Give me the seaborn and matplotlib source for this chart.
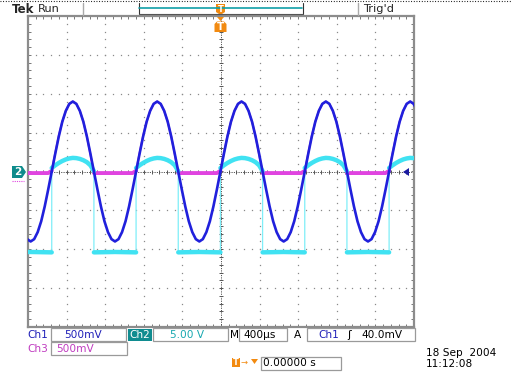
import numpy as np
import pandas as pd
import matplotlib
matplotlib.use("Agg")
import matplotlib.pyplot as plt
import seaborn as sns
from matplotlib.patches import Rectangle, Polygon
from matplotlib.lines import Line2D

# ---------------- data ----------------
# scope settings
ch1_v_per_div = 0.5      # 500mV
ch2_v_per_div = 5.0      # 5.00 V
ch3_v_per_div = 0.5      # 500mV
time_per_div_us = 400.0  # M 400us
period_us = 874.0        # measured period of the signal
first_rise_us = -6.0     # rising zero crossing closest to trigger

# one measured cycle, starting at Ch1 rising zero crossing, 25 samples (0..1)
cycle_phase = [i / 24 for i in range(25)]
ch1_cycle_v = [0.00, 0.23, 0.45, 0.64, 0.78, 0.87, 0.90, 0.87, 0.78, 0.64, 0.45, 0.23,
               0.00, -0.23, -0.45, -0.64, -0.78, -0.87, -0.90, -0.87, -0.78, -0.64, -0.45, -0.23,
               0.00]
ch3_cycle_v = [0.01, 0.24, 0.46, 0.64, 0.78, 0.87, 0.90, 0.87, 0.78, 0.64, 0.45, 0.22,
               -0.02, -0.02, -0.02, -0.02, -0.02, -0.02, -0.02, -0.02, -0.02, -0.02, -0.02, -0.02,
               0.01]
# Ch2: arc during positive half cycle, flat low level during negative half
ch2_arc_phase = [i / 24 for i in range(13)]
ch2_arc_v = [0.45, 0.80, 1.10, 1.35, 1.55, 1.68, 1.75, 1.72, 1.62, 1.45, 1.20, 0.80, 0.05]
ch2_low_phase = [0.5, 0.75, 1.0]
ch2_low_v = [-10.4, -10.35, -10.4]
cycles = [-3, -2, -1, 0, 1, 2]

# ---------------- build tables ----------------
ch1_rows, ch3_pos, ch3_neg = [], [], []
for k in cycles:
    t0 = first_rise_us + k * period_us
    for i, (p, v1, v3) in enumerate(zip(cycle_phase, ch1_cycle_v, ch3_cycle_v)):
        t = t0 + p * period_us
        ch1_rows.append((k, t, v1 / ch1_v_per_div))
        if i <= 12:
            ch3_pos.append((k, t, v3 / ch3_v_per_div))
        if i >= 12:
            ch3_neg.append((k, t, v3 / ch3_v_per_div))
ch1_df = pd.DataFrame(ch1_rows, columns=["seg", "t", "div"])
ch3_pos_df = pd.DataFrame(ch3_pos, columns=["seg", "t", "div"])
ch3_neg_df = pd.DataFrame(ch3_neg, columns=["seg", "t", "div"])

thick, thin = [], []
seg = 0
for k in cycles:
    t0 = first_rise_us + k * period_us
    for p, v in zip(ch2_arc_phase, ch2_arc_v):
        thick.append((seg, t0 + p * period_us, v / ch2_v_per_div))
        thin.append((t0 + p * period_us, v / ch2_v_per_div))
    seg += 1
    for p, v in zip(ch2_low_phase, ch2_low_v):
        thick.append((seg, t0 + p * period_us, v / ch2_v_per_div))
        thin.append((t0 + p * period_us, v / ch2_v_per_div))
    seg += 1
ch2_thick = pd.DataFrame(thick, columns=["seg", "t", "div"])
ch2_thin = pd.DataFrame(thin, columns=["t", "div"])

# ---------------- figure ----------------
sns.set_style("white")
plt.rcParams["font.family"] = ["DejaVu Sans"]

W, H = 511, 375
fig = plt.figure(figsize=(W / 100, H / 100), dpi=100)
fig.patch.set_facecolor("white")
L, R, T, B = 28, 414, 16, 327
ax = fig.add_axes([L / W, 1 - B / H, (R - L) / W, (B - T) / H])


def fx(x):
    return x / W


def fy(y):
    return 1 - y / H


half_x = 5 * time_per_div_us
ax.set_xlim(-half_x, half_x)
ax.set_ylim(-4, 4)

# graticule dots
gcol = "#8a8a8a"
xs_major = [i * time_per_div_us for i in range(-4, 5) if i != 0]
ys_major = [i for i in range(-3, 4) if i != 0]
yy = np.arange(-4, 4.001, 0.2)
xx = np.arange(-half_x, half_x + 1, time_per_div_us / 5)
for xm in xs_major:
    ax.plot(np.full_like(yy, xm), yy, ls="none", marker="s", ms=0.9, mew=0, color=gcol, zorder=1)
for ym in ys_major:
    ax.plot(xx, np.full_like(xx, ym), ls="none", marker="s", ms=0.9, mew=0, color=gcol, zorder=1)
# center lines with ticks
ax.axhline(0, ls=(0, (1.2, 1.2)), lw=0.7, color="#555555", zorder=1)
ax.axvline(0, ls=(0, (1.2, 1.2)), lw=0.7, color="#555555", zorder=1)
ax.plot(xx, np.zeros_like(xx), ls="none", marker="|", ms=3.5, mew=0.7, color="#555555", zorder=1)
ax.plot(np.zeros_like(yy), yy, ls="none", marker="_", ms=3.5, mew=0.7, color="#555555", zorder=1)

# border ticks
ax.set_xticks(xx)
ax.set_yticks(yy)
ax.tick_params(which="both", direction="in", length=2.5, width=0.7, color="#777777",
               top=True, right=True, bottom=True, left=True,
               labelbottom=False, labelleft=False)
for s in ax.spines.values():
    s.set_color("#8c8c8c")
    s.set_linewidth(1.6)
ax.grid(False)

# traces
pink = "#e044e0"
cyan = "#40e2f2"
blue = "#2020dc"
sns.lineplot(data=ch3_neg_df, x="t", y="div", units="seg", estimator=None,
             sort=False, color=pink, lw=2.8, ax=ax, legend=False, zorder=3)
sns.lineplot(data=ch3_pos_df, x="t", y="div", units="seg", estimator=None,
             sort=False, color=pink, lw=1.4, ax=ax, legend=False, zorder=3)
sns.lineplot(data=ch2_thin, x="t", y="div", estimator=None, sort=False,
             color="#7feef8", lw=0.9, ax=ax, legend=False, zorder=4)
sns.lineplot(data=ch2_thick, x="t", y="div", units="seg", estimator=None, sort=False,
             color=cyan, lw=3.2, ax=ax, legend=False, zorder=4)
sns.lineplot(data=ch1_df, x="t", y="div", units="seg", estimator=None,
             sort=False, color=blue, lw=1.9, ax=ax, legend=False, zorder=5)
ax.set_xlim(-half_x, half_x)
ax.set_ylim(-4, 4)
ax.set_xlabel("")
ax.set_ylabel("")

# ---------------- overlays (screen furniture) ----------------
def line(x0, y0, x1, y1, **kw):
    fig.add_artist(Line2D([fx(x0), fx(x1)], [fy(y0), fy(y1)], transform=fig.transFigure, **kw))


def box(x0, y0, x1, y1, ec="#9a9a9a", fc="none", lw=0.9):
    fig.add_artist(Rectangle((fx(x0), fy(y1)), (x1 - x0) / W, (y1 - y0) / H,
                             transform=fig.transFigure, ec=ec, fc=fc, lw=lw))


def poly(pts, color):
    fig.add_artist(Polygon([(fx(a), fy(b)) for a, b in pts], closed=True,
                           transform=fig.transFigure, fc=color, ec="none"))


fs = 7.6
# top dotted border
line(0, 1, 511, 1, color="black", lw=0.8, ls=(0, (0.8, 1.6)))
fig.text(fx(12), fy(9.5), "Tek", fontsize=8.5, fontweight="bold", va="center", ha="left")
fig.text(fx(38), fy(8.5), "Run", fontsize=8.2, va="center", ha="left")
fig.text(fx(363), fy(8.5), "Trig'd", fontsize=8.2, va="center", ha="left")
line(83, 3, 83, 15, color="#aaaaaa", lw=1.0)
line(358, 3, 358, 15, color="#aaaaaa", lw=1.0)
# record view
line(138.5, 3, 138.5, 14, color="#333333", lw=0.8)
line(302.5, 3, 302.5, 14, color="#333333", lw=0.8)
line(138.5, 13.5, 302.5, 13.5, color="#555555", lw=0.8)
line(139, 8, 302, 8, color="#10a0a8", lw=1.2)
orange = "#f28a10"
poly([(216, 4), (225, 4), (225, 12), (220.5, 15), (216, 12)], orange)
fig.text(fx(220.5), fy(9), "T", fontsize=6, color="white", fontweight="bold", ha="center", va="center")
poly([(217, 17), (224, 17), (220.5, 21)], orange)
poly([(214.5, 24), (217, 21.5), (224, 21.5), (226.5, 24), (226.5, 32), (214.5, 32)], orange)
fig.text(fx(220.5), fy(27), "T", fontsize=7.5, color="white", fontweight="bold", ha="center", va="center")

# ground marker "2"
poly([(12, 166), (22, 166), (26, 172), (22, 178), (12, 178)], "#0e8c8c")
fig.text(fx(17.5), fy(172), "2", fontsize=7.5, color="white", fontweight="bold", ha="center", va="center")
line(12, 180.5, 24, 180.5, color=pink, lw=0.8, ls=(0, (1, 1)))
# trigger level arrow
poly([(403, 172), (409, 168), (409, 176)], "#1a1aa0")

# bottom readouts
tealtxt = "#18a8b0"
ch1c = "#2020b8"
ch3c = "#c03cc0"
fig.text(fx(27), fy(334.5), "Ch1", fontsize=fs, color=ch1c, va="center", ha="left")
box(51, 328, 126, 341)
fig.text(fx(64), fy(334.5), "500mV", fontsize=fs, color=ch1c, va="center", ha="left")
box(128, 328.5, 152, 340.5, ec="none", fc="#108c90")
fig.text(fx(129), fy(334.5), "Ch2", fontsize=fs, color="white", va="center", ha="left")
box(153, 328, 228, 341)
fig.text(fx(170), fy(334.5), "5.00 V", fontsize=fs, color=tealtxt, va="center", ha="left")
fig.text(fx(229.5), fy(334.5), "M", fontsize=fs, color="black", va="center", ha="left")
box(239, 328, 287, 341)
fig.text(fx(243), fy(334.5), "400µs", fontsize=fs, color="black", va="center", ha="left")
fig.text(fx(294), fy(334.5), "A", fontsize=fs, color="black", va="center", ha="left")
box(307, 328, 415, 341)
fig.text(fx(318), fy(334.5), "Ch1", fontsize=fs, color=ch1c, va="center", ha="left")
fig.text(fx(347), fy(334.5), "ʃ", fontsize=fs + 0.5, color="black", va="center", ha="left")
fig.text(fx(361), fy(334.5), "40.0mV", fontsize=fs, color="black", va="center", ha="left")

fig.text(fx(27), fy(349.5), "Ch3", fontsize=fs, color=ch3c, va="center", ha="left")
box(51, 342, 127, 355)
fig.text(fx(56), fy(349.5), "500mV", fontsize=fs, color=ch3c, va="center", ha="left")

box(232, 358, 240, 367, ec="none", fc=orange)
fig.text(fx(236), fy(362.5), "T", fontsize=6, color="white", fontweight="bold", va="center", ha="center")
fig.text(fx(240.5), fy(362.5), "→", fontsize=6, color=orange, va="center", ha="left")
poly([(251, 359), (258, 359), (254.5, 364)], orange)
box(261, 357, 341, 370)
fig.text(fx(263), fy(363.5), "0.00000 s", fontsize=fs, color="black", va="center", ha="left")

fig.text(fx(426), fy(352.5), "18 Sep  2004", fontsize=fs, color="black", va="center", ha="left")
fig.text(fx(426), fy(364), "11:12:08", fontsize=fs, color="black", va="center", ha="left")

fig.savefig("out.png", dpi=100, facecolor="white")
